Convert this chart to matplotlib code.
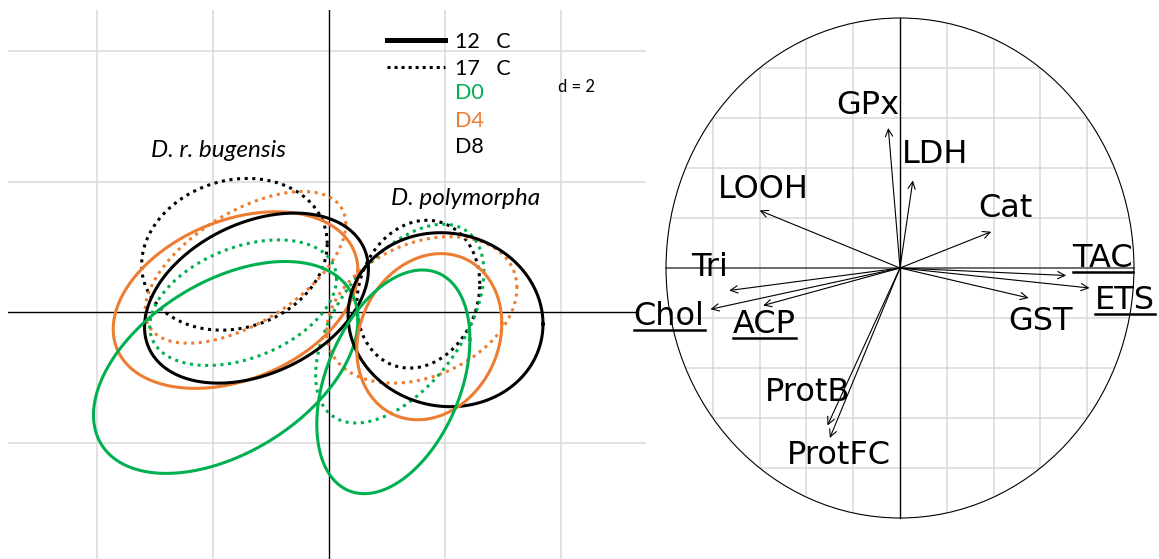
import numpy as np
import matplotlib
matplotlib.use("Agg")
import matplotlib.pyplot as plt
from matplotlib.patches import Ellipse
from matplotlib.lines import Line2D
from matplotlib.transforms import IdentityTransform

# ---- left panel: confidence ellipses (grid size d = 2) ----
ell_species = ["bugensis"] * 6 + ["polymorpha"] * 6
ell_temp = ["17", "17", "12", "12", "17", "12",
            "12", "17", "17", "12", "12", "17"]
ell_day = ["D8", "D4", "D4", "D8", "D0", "D0",
           "D8", "D8", "D4", "D4", "D0", "D0"]
ell_cx = [-1.63, -1.44, -1.61, -1.25, -1.48, -1.78,
          2.01, 1.54, 1.60, 1.73, 1.11, 1.22]
ell_cy = [0.89, 0.69, 0.19, 0.22, 0.15, -0.84,
          -0.11, 0.28, 0.04, -0.37, -1.06, -0.17]
ell_hx = [1.60, 1.73, 2.11, 1.93, 1.61, 2.28,
          1.68, 1.06, 1.64, 1.25, 1.32, 1.45]
ell_hy = [1.16, 1.16, 1.35, 1.30, 0.96, 1.62,
          1.33, 1.13, 1.12, 1.27, 1.71, 1.52]
ell_r = [0.14, 0.57, 0.33, 0.34, 0.38, 0.45,
         -0.05, 0.14, 0.30, 0.16, 0.38, 0.52]

# ---- right panel: correlation circle ----
var_names = ["GPx", "LDH", "LOOH", "Cat", "TAC", "ETS",
             "GST", "Tri", "Chol", "ACP", "ProtB", "ProtFC"]
var_x = [-0.05, 0.055, -0.60, 0.39, 0.71, 0.81,
         0.55, -0.73, -0.81, -0.585, -0.31, -0.30]
var_y = [0.56, 0.35, 0.23, 0.145, -0.03, -0.08,
         -0.12, -0.09, -0.165, -0.15, -0.63, -0.68]
underlined = ["TAC", "ETS", "Chol", "ACP"]

# label placement (layout only)
lab_pos = {
    "GPx": (-0.137, 0.650), "LDH": (0.15, 0.454), "LOOH": (-0.585, 0.314),
    "Cat": (0.451, 0.239), "TAC": (0.867, 0.038), "ETS": (0.960, -0.130),
    "GST": (0.601, -0.216), "Tri": (-0.812, 0.002), "Chol": (-0.987, -0.194),
    "ACP": (-0.581, -0.226), "ProtB": (-0.394, -0.498), "ProtFC": (-0.262, -0.750),
}

day_colors = {"D0": "#00B050", "D4": "#ED7D31", "D8": "#000000"}
GRID = "#d9d9d9"
LFONT = "Lato"

fig = plt.figure(figsize=(11.59, 5.59), dpi=100)

# left axes
ax1 = fig.add_axes([8 / 1159, 0, 638 / 1159, 549 / 559])
ax1.set_xlim(-5.534, 5.466)
ax1.set_ylim(-3.769, 4.625)
ax1.axis("off")
for gx in [-4, -2, 2, 4]:
    ax1.axvline(gx, color=GRID, lw=1.1, zorder=0)
for gy in [-2, 2, 4]:
    ax1.axhline(gy, color=GRID, lw=1.1, zorder=0)
ax1.axvline(0, color="black", lw=1.0, zorder=1)
ax1.plot([-5.534, 5.29], [0, 0], color="black", lw=1.0, zorder=1)

t = np.linspace(0, 2 * np.pi, 300)
for i in range(len(ell_cx)):
    ex = ell_cx[i] + ell_hx[i] * np.cos(t)
    ey = ell_cy[i] + ell_hy[i] * (ell_r[i] * np.cos(t) + np.sqrt(1 - ell_r[i] ** 2) * np.sin(t))
    if ell_temp[i] == "12":
        ax1.plot(ex, ey, color=day_colors[ell_day[i]], lw=2.2, zorder=3)
    else:
        ax1.plot(ex, ey, color=day_colors[ell_day[i]], lw=2.2,
                 linestyle=(0, (1, 1.5)), zorder=2)

# legend drawn by hand
ax1.plot([1.0, 2.0], [4.16, 4.16], color="black", lw=3.6)
ax1.plot([1.0, 2.0], [3.75, 3.75], color="black", lw=2.2, linestyle=(0, (1, 1.3)))
leg_items = [("12   C", "black", 4.13), ("17   C", "black", 3.73),
             ("D0", day_colors["D0"], 3.35), ("D4", day_colors["D4"], 2.93),
             ("D8", "black", 2.535)]
for txt, col, yy in leg_items:
    ax1.text(2.17, yy, txt, color=col, fontsize=15.5, family=LFONT, va="center", ha="left")
ax1.text(3.95, 3.45, "d = 2", fontsize=12, family=LFONT, va="center", ha="left")

ax1.text(-1.91, 2.47, "D. r. bugensis", fontsize=17.5, family=LFONT, style="italic",
         ha="center", va="center")
ax1.text(2.36, 1.75, "D. polymorpha", fontsize=17.5, family=LFONT, style="italic",
         ha="center", va="center")

# right axes
ax2 = fig.add_axes([630 / 1159, 0, 529 / 1159, 1])
ax2.set_xlim(-1.154, 1.107)
ax2.set_ylim(-1.164, 1.072)
ax2.axis("off")
ax2.patch.set_alpha(0)

circ = Ellipse((0, 0), 2, 2, fill=False, edgecolor="black", lw=0.8, zorder=3)
ax2.add_patch(circ)
clip = Ellipse((0, 0), 2, 2, transform=ax2.transData)
for g in [-0.8, -0.6, -0.4, -0.2, 0.2, 0.4, 0.6, 0.8]:
    l1, = ax2.plot([g, g], [-1, 1], color=GRID, lw=1.1, zorder=0)
    l2, = ax2.plot([-1, 1], [g, g], color=GRID, lw=1.1, zorder=0)
    l1.set_clip_path(clip)
    l2.set_clip_path(clip)
ax2.plot([-1, 1], [0, 0], color="#444444", lw=1.1, zorder=2)
ax2.plot([0, 0], [-1, 1], color="black", lw=1.0, zorder=2)

for name, vx, vy in zip(var_names, var_x, var_y):
    ax2.annotate("", xy=(vx, vy), xytext=(0, 0),
                 arrowprops=dict(arrowstyle="->", color="black", lw=0.8,
                                 shrinkA=0, shrinkB=0, mutation_scale=13),
                 zorder=4)

texts = {}
for name in var_names:
    px, py = lab_pos[name]
    texts[name] = ax2.text(px, py, name, fontsize=23, family="DejaVu Sans",
                           ha="center", va="center", zorder=5, clip_on=False)

fig.canvas.draw()
renderer = fig.canvas.get_renderer()
for name in underlined:
    bb = texts[name].get_window_extent(renderer)
    fig.add_artist(Line2D([bb.x0, bb.x1], [bb.y0 + 2.2, bb.y0 + 2.2],
                          transform=IdentityTransform(), color="black", lw=1.8))

fig.savefig("out.png", dpi=100)
